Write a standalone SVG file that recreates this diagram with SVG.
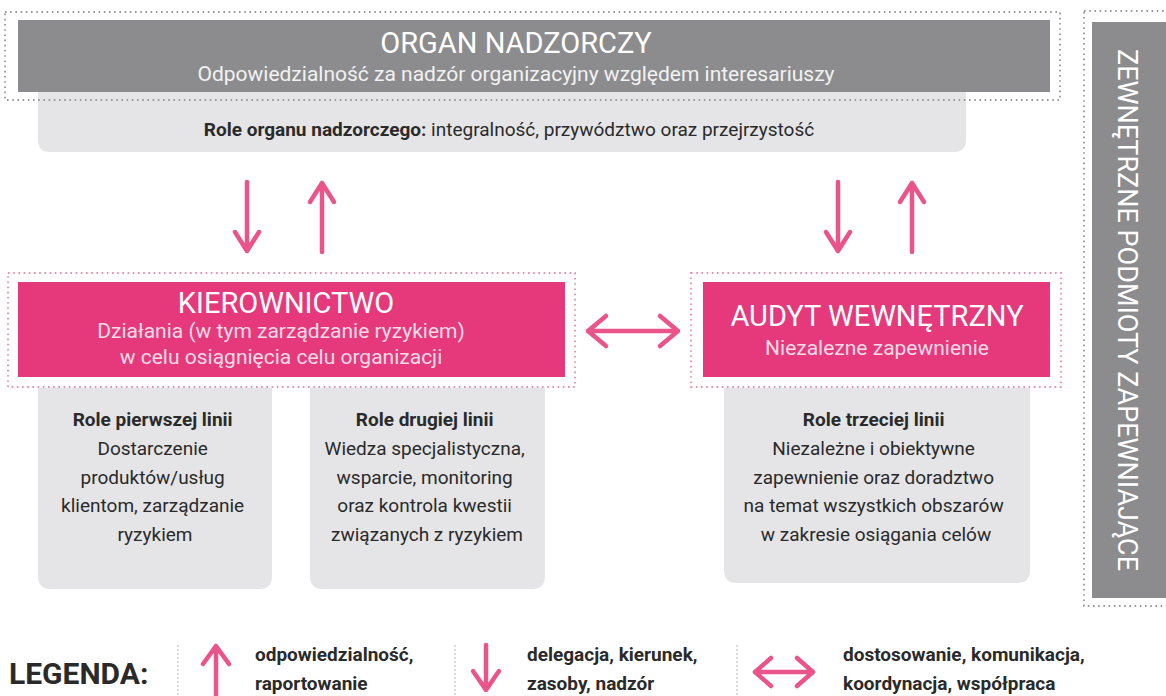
<svg xmlns="http://www.w3.org/2000/svg" width="1166" height="696" viewBox="0 0 1166 696">
  <defs>
    <style>
      .t { font-family: Roboto, "Open Sans", "Liberation Sans", sans-serif; }
      .white { fill: #ffffff; }
      .title { font-size: 29px; }
      .sub { font-size: 21px; fill: #f8dbe6; }
      .subg { font-size: 21px; fill: #f2f2f2; }
      .box { font-size: 19px; fill: #2a2a2a; }
      .top { font-size: 19px; fill: #2a2a2a; }
      .b { font-weight: bold; }
      .leg { font-size: 19px; font-weight: bold; fill: #2a2a2a; }
      .dotg { fill: none; stroke: #9a9a9a; stroke-width: 1.8; stroke-dasharray: 1.6 3.6; }
      .dotp { fill: none; stroke: #ee8ab0; stroke-width: 1.8; stroke-dasharray: 1.6 3.6; }
      .arr { fill: none; stroke: #ea5489; stroke-width: 4.5; stroke-linecap: round; stroke-linejoin: round; }
      .sep { stroke: #cfcfcf; stroke-width: 1.5; stroke-dasharray: 2 2; }
      .light { fill: #e5e5e7; }
    </style>
  </defs>
  <rect width="1166" height="696" fill="#ffffff"/>

  <g id="organ-nadzorczy">
    <path class="light" d="M38 92 H966 V140 Q966 152 954 152 H50 Q38 152 38 140 Z"/>
    <rect x="18" y="20" width="1032" height="72" fill="#8c8c8e"/>
    <rect class="dotg" x="5" y="12" width="1055" height="88"/>
    <text class="t white title" x="516" y="53" text-anchor="middle">ORGAN NADZORCZY</text>
    <text class="t subg" x="516" y="81" text-anchor="middle">Odpowiedzialność za nadzór organizacyjny względem interesariuszy</text>
    <text class="t top" x="509" y="136" text-anchor="middle"><tspan class="b">Role organu nadzorczego:</tspan> integralność, przywództwo oraz przejrzystość</text>
  </g>

  <g id="kierownictwo">
    <rect x="18" y="282" width="547" height="95" fill="#e6397c"/>
    <rect class="dotp" x="8" y="273" width="567" height="114"/>
    <text class="t white title" x="286" y="313" text-anchor="middle">KIEROWNICTWO</text>
    <text class="t sub" x="281" y="338" text-anchor="middle">Działania (w tym zarządzanie ryzykiem)</text>
    <text class="t sub" x="281" y="364" text-anchor="middle">w celu osiągnięcia celu organizacji</text>
  </g>

  <g id="audyt-wewnetrzny">
    <rect x="703" y="282" width="347" height="95" fill="#e6397c"/>
    <rect class="dotp" x="691" y="273" width="370" height="114"/>
    <text class="t white title" x="877" y="326" text-anchor="middle">AUDYT WEWNĘTRZNY</text>
    <text class="t sub" x="877" y="355" text-anchor="middle">Niezalezne zapewnienie</text>
  </g>

  <g id="role-pierwszej-linii">
    <path class="light" d="M38 388 H272 V576 Q272 589 259 589 H51 Q38 589 38 576 Z"/>
    <text class="t box" text-anchor="middle">
      <tspan class="b" x="155" y="426">Role pierwszej linii</tspan>
      <tspan x="155" y="455">Dostarczenie</tspan>
      <tspan x="155" y="484">produktów/usług</tspan>
      <tspan x="155" y="512">klientom, zarządzanie</tspan>
      <tspan x="155" y="541">ryzykiem</tspan>
    </text>
  </g>

  <g id="role-drugiej-linii">
    <path class="light" d="M310 388 H545 V576 Q545 589 532 589 H323 Q310 589 310 576 Z"/>
    <text class="t box" text-anchor="middle">
      <tspan class="b" x="427" y="426">Role drugiej linii</tspan>
      <tspan x="427" y="455">Wiedza specjalistyczna,</tspan>
      <tspan x="427" y="484">wsparcie, monitoring</tspan>
      <tspan x="427" y="512">oraz kontrola kwestii</tspan>
      <tspan x="427" y="541">związanych z ryzykiem</tspan>
    </text>
  </g>

  <g id="role-trzeciej-linii">
    <path class="light" d="M724 388 H1030 V570 Q1030 583 1017 583 H737 Q724 583 724 570 Z"/>
    <text class="t box" text-anchor="middle">
      <tspan class="b" x="876" y="426">Role trzeciej linii</tspan>
      <tspan x="876" y="455">Niezależne i obiektywne</tspan>
      <tspan x="876" y="484">zapewnienie oraz doradztwo</tspan>
      <tspan x="876" y="512">na temat wszystkich obszarów</tspan>
      <tspan x="876" y="541">w zakresie osiągania celów</tspan>
    </text>
  </g>

  <g id="zewnetrzne-podmioty">
    <rect x="1092" y="22" width="74" height="576" fill="#8c8c8e"/>
    <rect class="dotg" x="1084" y="11" width="90" height="595"/>
    <text class="t white" font-size="27" transform="translate(1118,310) rotate(90)" text-anchor="middle">ZEWNĘTRZNE PODMIOTY ZAPEWNIAJĄCE</text>
  </g>

  <g id="connectors">
    <path class="arr" d="M247 182 V251 M235 232 L247 251 L259 232"/>
    <path class="arr" d="M322 252 V183 M310 202 L322 183 L334 202"/>
    <path class="arr" d="M838 182 V251 M826 232 L838 251 L850 232"/>
    <path class="arr" d="M912 252 V183 M900 202 L912 183 L924 202"/>
    <path class="arr" d="M588 331 H678 M606 316 L588 331 L606 346 M660 316 L678 331 L660 346"/>
  </g>

  <g id="legenda">
    <text class="t" x="9" y="684" font-size="30" font-weight="bold" fill="#2a2a2a">LEGENDA:</text>
    <line class="sep" x1="178" y1="645" x2="178" y2="696"/>
    <line class="sep" x1="455" y1="645" x2="455" y2="696"/>
    <line class="sep" x1="737" y1="645" x2="737" y2="696"/>
    <path class="arr" d="M216 700 V646 M203 664 L216 646 L229 664"/>
    <text class="t leg" x="255" y="661">odpowiedzialność,</text>
    <text class="t leg" x="255" y="690">raportowanie</text>
    <path class="arr" d="M486 645 V690 M473 671 L486 690 L499 671"/>
    <text class="t leg" x="527" y="661">delegacja, kierunek,</text>
    <text class="t leg" x="527" y="690">zasoby, nadzór</text>
    <path class="arr" d="M755 672 H813 M771 658 L755 672 L771 686 M797 658 L813 672 L797 686"/>
    <text class="t leg" x="843" y="661">dostosowanie, komunikacja,</text>
    <text class="t leg" x="843" y="690">koordynacja, współpraca</text>
  </g>
</svg>
